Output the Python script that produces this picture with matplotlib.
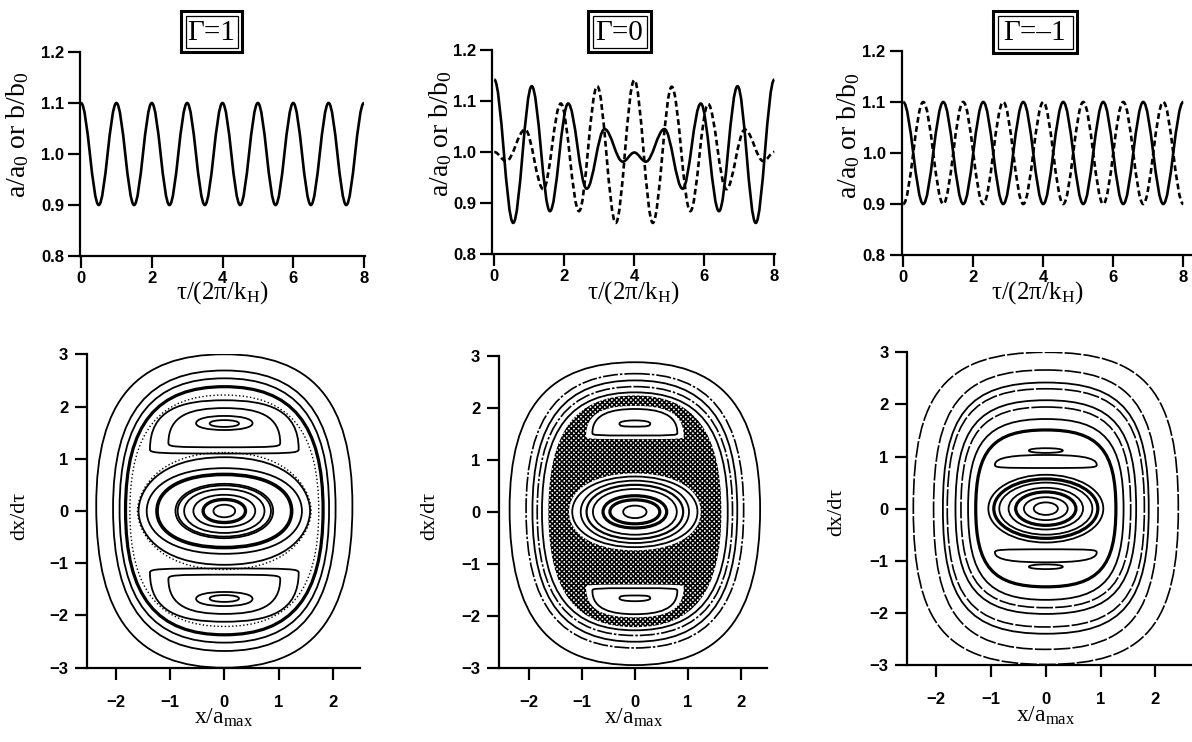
import matplotlib
matplotlib.use("Agg")
import matplotlib.pyplot as plt
from matplotlib.path import Path
from matplotlib.patches import PathPatch, Rectangle

plt.rcParams['font.family'] = ['Liberation Serif', 'DejaVu Serif']
plt.rcParams['mathtext.fontset'] = 'custom'
plt.rcParams['mathtext.rm'] = 'Liberation Serif'
plt.rcParams['mathtext.default'] = 'regular'
plt.rcParams['hatch.linewidth'] = 1.15

# ---------------- data: top panels (extrema of a/a0 and b/b0) ----------------
titles = ['Γ=1', 'Γ=0', 'Γ=–1']

g1_solid_t = [0, 0.5, 1, 1.5, 2, 2.5, 3, 3.5, 4, 4.5, 5, 5.5, 6, 6.5, 7, 7.5, 8]
g1_solid_v = [1.1, 0.9, 1.1, 0.9, 1.1, 0.9, 1.1, 0.9, 1.1, 0.9, 1.1, 0.9, 1.1, 0.9, 1.1, 0.9, 1.1]

g0_solid_t = [0, 0.54, 1.07, 1.59, 2.11, 2.64, 3.15, 3.67, 4.0, 4.33, 4.86, 5.38, 5.9, 6.42, 6.95, 7.47, 8]
g0_solid_v = [1.142, 0.861, 1.129, 0.884, 1.095, 0.928, 1.045, 0.981, 0.999, 0.981, 1.045, 0.928, 1.095, 0.884, 1.129, 0.861, 1.142]
g0_dash_t = [0, 0.34, 0.88, 1.40, 1.90, 2.42, 2.94, 3.47, 4.0, 4.53, 5.07, 5.6, 6.11, 6.63, 7.16, 7.69, 8]
g0_dash_v = [1.0, 0.982, 1.044, 0.927, 1.095, 0.884, 1.129, 0.861, 1.141, 0.861, 1.128, 0.884, 1.094, 0.927, 1.044, 0.982, 1.0]

gm1_t = [0, 0.571, 1.143, 1.714, 2.286, 2.857, 3.429, 4.0, 4.571, 5.143, 5.714, 6.286, 6.857, 7.429, 8.0]
gm1_solid_v = [1.1, 0.9, 1.1, 0.9, 1.1, 0.9, 1.1, 0.9, 1.1, 0.9, 1.1, 0.9, 1.1, 0.9, 1.1]
gm1_dash_v = [0.9, 1.1, 0.9, 1.1, 0.9, 1.1, 0.9, 1.1, 0.9, 1.1, 0.9, 1.1, 0.9, 1.1, 0.9]

top_xticks = [0, 2, 4, 6, 8]
top_yticks = [0.8, 0.9, 1.0, 1.1, 1.2]
bot_xticks = [-2, -1, 0, 1, 2]
bot_yticks = [-3, -2, -1, 0, 1, 2, 3]

# ---------------- data: phase-space curves (half width, top, bottom, widest level) ----------------
# squareness factors per curve: (top horizontal, top vertical, bottom horizontal, bottom vertical)
b1_hw  = [2.36, 2.05, 1.93, 1.82, 1.74, 1.37, 1.03, 0.52, 0.27, 1.37, 1.03, 0.52, 0.27, 1.60, 1.58, 1.43, 1.24, 0.90, 0.86, 0.74, 0.57, 0.39, 0.20]
b1_top = [3.00, 2.69, 2.54, 2.38, 2.22, 2.12, 1.97, 1.82, 1.74, -1.10, -1.22, -1.55, -1.61, 1.12, 1.03, 0.82, 0.70, 0.52, 0.49, 0.42, 0.31, 0.22, 0.12]
b1_bot = [-3.00, -2.68, -2.52, -2.37, -2.21, 1.10, 1.22, 1.55, 1.61, -2.12, -1.97, -1.82, -1.74, -1.12, -1.03, -0.82, -0.70, -0.52, -0.49, -0.42, -0.31, -0.22, -0.12]
b1_mid = [0.10, 0.05, 0.03, 0.02, 0.0, 1.18, 1.30, 1.68, 1.675, -1.18, -1.30, -1.68, -1.675, 0.0, 0.0, 0.0, 0.0, 0.0, 0.0, 0.0, 0.0, 0.0, 0.0]
b1_k = [(0.68, 0.7, 0.68, 0.7)] * 5 + [(0.6, 0.8, 0.9, 0.9), (0.6, 0.8, 0.9, 0.9), (0.6, 0.6, 0.6, 0.6), (0.6, 0.6, 0.6, 0.6),
        (0.9, 0.9, 0.6, 0.8), (0.9, 0.9, 0.6, 0.8), (0.6, 0.6, 0.6, 0.6), (0.6, 0.6, 0.6, 0.6),
        (0.8, 0.3, 0.8, 0.3), (0.8, 0.35, 0.8, 0.35), (0.7, 0.5, 0.7, 0.5), (0.62, 0.6, 0.62, 0.6)] + [(0.58, 0.58, 0.58, 0.58)] * 6
b1_lw = [1.3, 1.3, 1.3, 2.3, 1.0, 1.3, 1.3, 1.3, 1.3, 1.3, 1.3, 1.3, 1.3, 1.0, 1.3, 1.3, 2.6, 1.3, 1.3, 1.3, 1.3, 2.4, 1.3]
b1_ls = ['-', '-', '-', '-', ':', '-', '-', '-', '-', '-', '-', '-', '-', ':', '-', '-', '-', '-', '-', '-', '-', '-', '-']

b2_hw  = [2.36, 2.05, 1.93, 1.84, 1.75, 0.80, 0.29, 0.80, 0.29, 1.18, 1.02, 0.91, 0.79, 0.60, 0.47, 0.22]
b2_top = [2.88, 2.66, 2.53, 2.41, 2.30, 1.98, 1.76, -1.47, -1.61, 0.68, 0.60, 0.52, 0.44, 0.31, 0.23, 0.12]
b2_bot = [-2.95, -2.62, -2.50, -2.38, -2.28, 1.47, 1.64, -1.97, -1.72, -0.68, -0.60, -0.52, -0.44, -0.31, -0.23, -0.12]
b2_mid = [0.05, 0.03, 0.02, 0.0, 0.0, 1.52, 1.70, -1.52, -1.665, 0.0, 0.0, 0.0, 0.0, 0.0, 0.0, 0.0]
b2_k = [(0.68, 0.7, 0.68, 0.7)] * 5 + [(0.55, 0.8, 0.95, 0.95), (0.6, 0.6, 0.85, 0.85), (0.95, 0.95, 0.55, 0.8), (0.85, 0.85, 0.6, 0.6)] + [(0.58, 0.58, 0.58, 0.58)] * 7
b2_lw = [1.3, 1.2, 1.3, 1.2, 1.3, 1.3, 1.3, 1.3, 1.3, 1.3, 1.3, 1.6, 1.3, 2.3, 2.3, 1.3]
b2_ls = ['-', (0, (9, 1.2, 1.5, 1.2)), '-', (0, (9, 1.2, 1.5, 1.2)), '-', '-', '-', '-', '-', '-', '-', '-', '-', '-', '-', '-']
# chaotic sea: outer limit, central regular core, island clearances
b2_sea_hw  = [1.63, 1.24, 0.92, 0.92]
b2_sea_top = [2.24, 0.74, 2.04, -1.40]
b2_sea_bot = [-2.22, -0.74, 1.40, -2.03]
b2_sea_mid = [0.0, 0.0, 1.45, -1.45]
b2_sea_k = [(0.68, 0.7, 0.68, 0.7), (0.6, 0.6, 0.6, 0.6), (0.6, 0.8, 0.9, 0.9), (0.9, 0.9, 0.6, 0.8)]

b3_hw  = [2.42, 2.05, 1.88, 1.80, 1.65, 1.55, 1.42, 1.28, 0.93, 0.31, 0.93, 0.31, 1.05, 0.95, 0.85, 0.68, 0.55, 0.40, 0.22]
b3_top = [3.00, 2.66, 2.42, 2.30, 2.08, 1.95, 1.72, 1.51, 1.03, 1.16, -0.78, -1.07, 0.65, 0.57, 0.50, 0.40, 0.32, 0.22, 0.12]
b3_bot = [-2.99, -2.70, -2.40, -2.27, -2.02, -1.90, -1.75, -1.50, 0.78, 1.07, -1.03, -1.16, -0.65, -0.57, -0.50, -0.40, -0.32, -0.22, -0.12]
b3_mid = [0.0, 0.0, 0.0, 0.0, 0.0, 0.0, 0.0, 0.0, 0.84, 1.115, -0.84, -1.115, 0.0, 0.0, 0.0, 0.0, 0.0, 0.0, 0.0]
b3_k = [(0.76, 0.74, 0.76, 0.74)] * 8 + [(0.6, 0.8, 0.9, 0.9), (0.6, 0.6, 0.6, 0.6), (0.9, 0.9, 0.6, 0.8), (0.6, 0.6, 0.6, 0.6)] + [(0.56, 0.56, 0.56, 0.56)] * 7
b3_lw = [1.2, 1.2, 1.3, 1.2, 1.3, 1.2, 1.3, 2.3, 1.3, 1.3, 1.3, 1.3, 1.3, 2.3, 1.3, 1.3, 2.3, 1.3, 1.3]
dashL = (0, (10, 1.3))
b3_ls = [dashL, dashL, '-', dashL, '-', dashL, '-', '-', '-', '-', '-', '-', '-', '-', '-', '-', '-', '-', '-']

# ---------------- figure ----------------
W, H = 1192, 742
fig = plt.figure(figsize=(W / 100, H / 100), dpi=100)


def add_ax(left, right, top, bottom):
    return fig.add_axes([left / W, 1 - bottom / H, (right - left) / W, (bottom - top) / H])


def style_ax(ax, xt, yt, xpad, ypad):
    for s in ['top', 'right']:
        ax.spines[s].set_visible(False)
    for s in ['left', 'bottom']:
        ax.spines[s].set_linewidth(1.6)
    ax.set_xticks(xt)
    ax.set_yticks(yt)
    ax.tick_params(direction='out', length=8.5, width=1.6, labelsize=12)
    ax.tick_params(axis='x', pad=xpad)
    ax.tick_params(axis='y', pad=ypad)
    for lab in ax.get_xticklabels() + ax.get_yticklabels():
        lab.set_fontfamily('Liberation Sans')
        lab.set_fontweight('bold')


def wave(ax, ts, vs, **kw):
    c = 0.36
    verts = [(ts[0], vs[0])]
    codes = [Path.MOVETO]
    for i in range(len(ts) - 1):
        dt = ts[i + 1] - ts[i]
        verts += [(ts[i] + c * dt, vs[i]), (ts[i + 1] - c * dt, vs[i + 1]), (ts[i + 1], vs[i + 1])]
        codes += [Path.CURVE4] * 3
    ax.add_patch(PathPatch(Path(verts, codes), fill=False, capstyle='butt', **kw))


def ring_verts(hw, top, bot, mid, k, reverse=False):
    kht, kvt, khb, kvb = k
    a = hw
    v = [(0, top),
         (kht * a, top), (a, mid + kvt * (top - mid)), (a, mid),
         (a, mid - kvb * (mid - bot)), (khb * a, bot), (0, bot),
         (-khb * a, bot), (-a, mid - kvb * (mid - bot)), (-a, mid),
         (-a, mid + kvt * (top - mid)), (-kht * a, top), (0, top)]
    if reverse:
        v = v[::-1]
    return v, [Path.MOVETO] + [Path.CURVE4] * 12


def rings(ax, hw, top, bot, mid, ks, lws, lss):
    for i in range(len(hw)):
        v, c = ring_verts(hw[i], top[i], bot[i], mid[i], ks[i])
        ax.add_patch(PathPatch(Path(v, c), fill=False, lw=lws[i], ls=lss[i], ec='black', capstyle='butt'))


# top panels
top_specs = [
    (80, 365, 52, 256, (-0.03, 8.03)),
    (492.2, 775, 50, 254, (-0.06, 8.02)),
    (901.5, 1192, 51, 255, (-0.05, 8.25)),
]
top_axes = []
for (l, r, t, b, xl) in top_specs:
    ax = add_ax(l, r, t, b)
    ax.set_xlim(*xl)
    ax.set_ylim(0.8, 1.2)
    style_ax(ax, top_xticks, top_yticks, 2, 3)
    ax.set_yticklabels(['0.8', '0.9', '1.0', '1.1', '1.2'], fontfamily='Liberation Sans', fontweight='bold')
    top_axes.append(ax)

solid_kw = dict(lw=1.9, ec='black')
dash_kw = dict(lw=1.9, ec='black', ls=(0, (2.2, 1.3)))
wave(top_axes[0], g1_solid_t, g1_solid_v, **solid_kw)
wave(top_axes[1], g0_dash_t, g0_dash_v, **dash_kw)
wave(top_axes[1], g0_solid_t, g0_solid_v, **solid_kw)
wave(top_axes[2], gm1_t, gm1_dash_v, **dash_kw)
wave(top_axes[2], gm1_t, gm1_solid_v, **solid_kw)

# bottom panels
bot_specs = [
    (87, 360, 354.3, 667.7, (-2.53, 2.50)),
    (499, 767, 356, 667.7, (-2.56, 2.49)),
    (907.3, 1192, 352.3, 665, (-2.53, 2.67)),
]
bot_axes = []
for (l, r, t, b, xl) in bot_specs:
    ax = add_ax(l, r, t, b)
    ax.set_xlim(*xl)
    ax.set_ylim(-3.0, 3.0)
    style_ax(ax, bot_xticks, bot_yticks, 11, 5)
    bot_axes.append(ax)

rings(bot_axes[0], b1_hw, b1_top, b1_bot, b1_mid, b1_k, b1_lw, b1_ls)

# chaotic sea (stippled)
verts, codes = [], []
for i in range(len(b2_sea_hw)):
    v, c = ring_verts(b2_sea_hw[i], b2_sea_top[i], b2_sea_bot[i], b2_sea_mid[i], b2_sea_k[i], reverse=(i > 0))
    verts += v
    codes += c
bot_axes[1].add_patch(PathPatch(Path(verts, codes), fc='none', ec='black', lw=0, hatch='xxxxxxx'))
rings(bot_axes[1], b2_hw, b2_top, b2_bot, b2_mid, b2_k, b2_lw, b2_ls)

rings(bot_axes[2], b3_hw, b3_top, b3_bot, b3_mid, b3_k, b3_lw, b3_ls)

# axis labels
def ftext(x, y, s, **kw):
    fig.text(x / W, 1 - y / H, s, ha='center', va='center', **kw)

for cx, cy in [(18, 135), (441, 134), (849, 136)]:
    ftext(cx, cy, 'a/a$_0$ or b/b$_0$', rotation=90, fontsize=20)
for cx, cy in [(222, 293), (633, 293), (1037, 293)]:
    ftext(cx, cy, 'τ/(2π/k$_{H}$)', fontsize=18)
for cx, cy in [(20, 516), (430, 516), (837, 512)]:
    ftext(cx, cy, 'dx/dτ', rotation=90, fontsize=16)
for cx, cy in [(224, 718), (634, 718), (1046, 716)]:
    ftext(cx, cy, 'x/a$_{max}$', fontsize=17)

# titled double boxes
boxes = [(181, 242, 11, 52), (588, 651, 11, 52), (993, 1077, 11, 53)]
for (l, r, t, b), s in zip(boxes, titles):
    fig.patches.append(Rectangle((l / W, 1 - b / H), (r - l) / W, (b - t) / H, transform=fig.transFigure,
                                 fill=False, lw=2.2, ec='black'))
    g = 4.5
    fig.patches.append(Rectangle(((l + g) / W, 1 - (b - g) / H), (r - l - 2 * g) / W, (b - t - 2 * g) / H,
                                 transform=fig.transFigure, fill=False, lw=0.9, ec='black'))
    ftext((l + r) / 2, (t + b) / 2 + 1, s, fontsize=21)

fig.savefig('out.png', dpi=100, facecolor='white')
